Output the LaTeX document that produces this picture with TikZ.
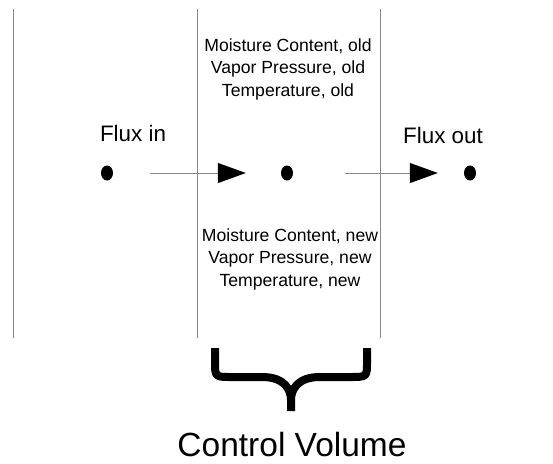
\documentclass[tikz,border=0pt]{standalone}
\usepackage{fontspec}
\setmainfont{Liberation Sans}
\usepackage{xcolor}
\usetikzlibrary{arrows.meta, positioning, shapes.geometric}
\definecolor{gris}{HTML}{8A8A8A}
\definecolor{encre}{HTML}{000000}
\tikzset{
  paroi/.style={draw=gris, line width=1pt},
  fleche/.style={draw=gris, line width=1pt,
    -{Triangle[length=28pt, width=20pt, color=encre]}},
  point/.style={ellipse, fill=encre, minimum width=12pt, minimum height=15pt, inner sep=0},
  etat/.style={font=\fontsize{17.6}{22.5}\selectfont, align=center, inner sep=0},
  etiquette/.style={font=\fontsize{22.4}{27}\selectfont, inner sep=0, anchor=base},
  titre/.style={font=\fontsize{33.5}{40}\selectfont, inner sep=0, anchor=base},
  accolade/.style={draw=encre, line width=8pt, line join=round}
}
\begin{document}
\begin{tikzpicture}[x=1pt, y=-1pt]
    \useasboundingbox (0,0) rectangle (553,463);
    % parois du volume de controle
    \foreach \x in {13,197,380}
      \draw[paroi] (\x,9) -- (\x,338);

    \node[point] (amont) at (107,173) {};
    \node[point] (centre) at (287,173) {};
    \node[point] (aval) at (470,173) {};

    \node[etiquette] (fluxin) at (133,141) {Flux in};
    \node[etiquette] (fluxout) at (443,143) {Flux out};

    \node[etat] (ancien) at (288,69) {Moisture Content, old\\ Vapor Pressure, old\\ Temperature, old};
    \node[etat] (nouveau) at (290,259) {Moisture Content, new\\ Vapor Pressure, new\\ Temperature, new};

    \draw[fleche, shorten <=37pt, shorten >=35pt] (amont) -- (centre);
    \draw[fleche, shorten <=52pt, shorten >=26pt] (centre) -- (aval);

    % accolade sous le volume de controle
    \draw[accolade] (215,348) -- (215,362) .. controls (215,377) and (215,377) .. (232,377)
      -- (262,377) .. controls (285,377) and (291,390) .. (291,400) -- (291,411);
    \draw[accolade] (367,348) -- (367,362) .. controls (367,377) and (367,377) .. (350,377)
      -- (320,377) .. controls (297,377) and (291,390) .. (291,400);

    \node[titre] (volume) at (292,456) {Control Volume};
  \end{tikzpicture}
\end{document}
